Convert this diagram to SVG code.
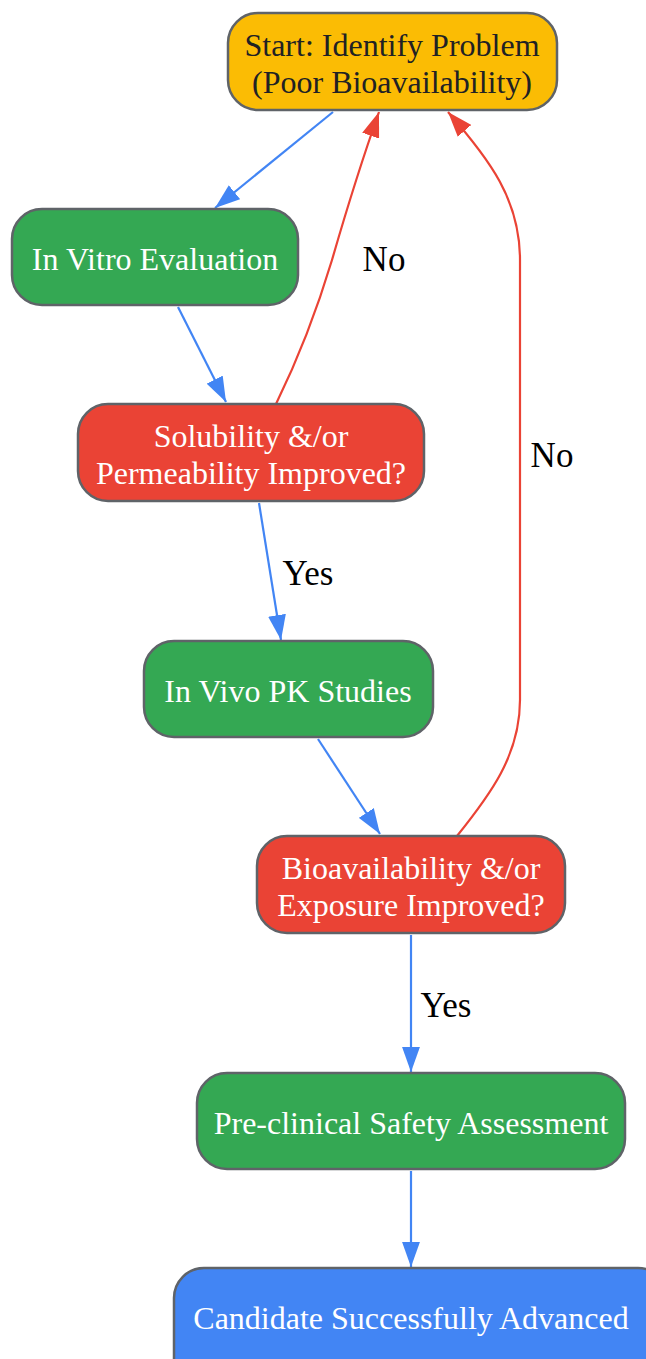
<svg xmlns="http://www.w3.org/2000/svg" width="646" height="1359" viewBox="0 0 646 1359">
<defs>
<style>
.n rect{stroke:#5f6368;stroke-width:2.5}
.t{font-family:"Liberation Serif","Times New Roman",serif;font-size:32px;text-anchor:middle;fill:#ffffff}
.dark{fill:#202124}
.lbl{font-family:"Liberation Serif","Times New Roman",serif;font-size:35px;text-anchor:middle;fill:#000000}
.eb{fill:none;stroke:#4285F4;stroke-width:2.2}
.er{fill:none;stroke:#EA4335;stroke-width:2.2}
</style>
<marker id="ab" viewBox="0 0 14 10" refX="14" refY="5" markerWidth="11.4" markerHeight="8.2" markerUnits="strokeWidth" orient="auto"><path d="M0,0L14,5L0,10z" fill="#4285F4"/></marker>
<marker id="ar" viewBox="0 0 14 10" refX="14" refY="5" markerWidth="11.4" markerHeight="8.2" markerUnits="strokeWidth" orient="auto"><path d="M0,0L14,5L0,10z" fill="#EA4335"/></marker>
</defs>
<rect width="646" height="1359" fill="#ffffff"/>
<g id="connectors">
<path class="eb" d="M333,112L215,208" marker-end="url(#ab)"/>
<path class="eb" d="M178,307L226,402" marker-end="url(#ab)"/>
<path class="er" d="M276,404C300,355 320,300 332,260C345,215 362,160 379,112" marker-end="url(#ar)"/>
<path class="eb" d="M259,503L281,640" marker-end="url(#ab)"/>
<path class="eb" d="M318,739L380,834" marker-end="url(#ab)"/>
<path class="er" d="M457,836C490,795 520,755 520,700L520,260C520,200 490,160 448,112" marker-end="url(#ar)"/>
<path class="eb" d="M411,935L411,1072" marker-end="url(#ab)"/>
<path class="eb" d="M411,1171L411,1267" marker-end="url(#ab)"/>
<text class="lbl" x="384" y="271">No</text>
<text class="lbl" x="308" y="585">Yes</text>
<text class="lbl" x="552" y="467">No</text>
<text class="lbl" x="446" y="1017">Yes</text>
</g>
<g id="start" class="n"><rect x="228" y="13" width="329" height="97" rx="30" fill="#FBBC04"/><text class="t dark" x="392" y="56">Start: Identify Problem</text><text class="t dark" x="392" y="93">(Poor Bioavailability)</text></g>
<g id="invitro" class="n"><rect x="12" y="209" width="286" height="96" rx="30" fill="#34A853"/><text class="t" x="155" y="270">In Vitro Evaluation</text></g>
<g id="solubility" class="n"><rect x="78" y="404" width="346" height="97" rx="30" fill="#EA4335"/><text class="t" x="251" y="447">Solubility &amp;/or</text><text class="t" x="251" y="484">Permeability Improved?</text></g>
<g id="invivo" class="n"><rect x="144" y="641" width="289" height="96" rx="30" fill="#34A853"/><text class="t" x="288" y="702">In Vivo PK Studies</text></g>
<g id="bioavail" class="n"><rect x="257" y="836" width="308" height="97" rx="30" fill="#EA4335"/><text class="t" x="411" y="879">Bioavailability &amp;/or</text><text class="t" x="411" y="916">Exposure Improved?</text></g>
<g id="preclinical" class="n"><rect x="197" y="1073" width="428" height="96" rx="30" fill="#34A853"/><text class="t" x="411" y="1134">Pre-clinical Safety Assessment</text></g>
<g id="candidate" class="n"><rect x="174" y="1268" width="494" height="120" rx="30" fill="#4285F4"/><text class="t" x="411" y="1329">Candidate Successfully Advanced</text></g>
</svg>
